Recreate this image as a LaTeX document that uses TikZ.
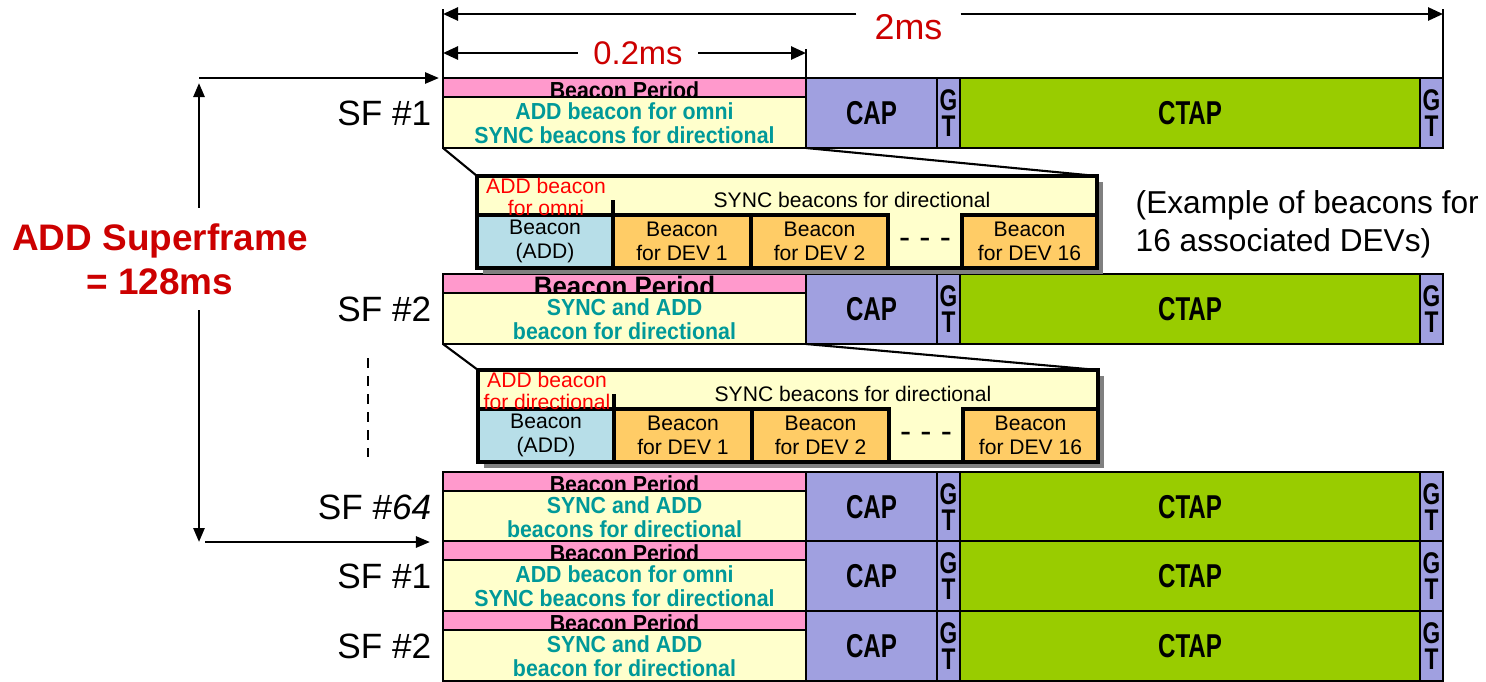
\documentclass[tikz,border=0pt]{standalone}
\usepackage{fontspec}
\setmainfont{Liberation Sans}
\newfontfamily\bandfont[FakeStretch=0.92]{Liberation Sans}
\newfontfamily\blockfont[FakeStretch=0.73]{Liberation Sans}
\newfontfamily\gtfont[FakeStretch=0.76]{Liberation Sans}
\usetikzlibrary{arrows.meta,fit,shadows}
\definecolor{bppink}{RGB}{255,153,204}
\definecolor{bandyellow}{RGB}{255,255,204}
\definecolor{caplav}{RGB}{160,160,224}
\definecolor{ctapgreen}{RGB}{153,204,0}
\definecolor{bandteal}{RGB}{0,153,153}
\definecolor{dimred}{RGB}{204,0,0}
\definecolor{addblue}{RGB}{183,222,232}
\definecolor{devorange}{RGB}{255,204,102}
\definecolor{shadowgray}{RGB}{128,128,128}
\tikzset{
  blk/.style={draw, line width=0.75pt, inner sep=0pt, outer sep=0pt},
  blocktext/.style={font=\blockfont\bfseries\fontsize{9.4pt}{9.4pt}\selectfont, inner sep=0pt},
  gttext/.style={font=\gtfont\bfseries\fontsize{8.5pt}{7.4pt}\selectfont, align=center, inner sep=0pt},
  bandtext/.style={text=bandteal, font=\bandfont\bfseries\fontsize{6.6pt}{6.85pt}\selectfont, align=center, inner sep=0pt},
  sflabel/.style={anchor=east, font=\fontsize{10pt}{12pt}\selectfont, inner sep=0pt, xshift=-0.11cm},
  expbox/.style={blk, line width=0.9pt, fill=bandyellow,
    drop shadow={shadow xshift=0.06cm, shadow yshift=-0.06cm, fill=shadowgray, opacity=1}},
  subbox/.style={blk, line width=0.9pt},
  exptext/.style={font=\fontsize{6pt}{6.8pt}\selectfont, align=center, inner sep=0pt},
  dimlabel/.style={text=dimred, inner ysep=0pt},
  zoomline/.style={line width=0.6pt},
  arr/.style={line width=0.75pt, -{Triangle[length=0.14cm, width=0.11cm]}},
  dimarrow/.style={line width=0.75pt, -{Triangle[length=0.15cm, width=0.13cm]}}
}
% one superframe: name, top, BP size, BP baseline offset, band text, label
\newcommand\sfrow[6]{%
  \pgfmathsetmacro\rowtop{#2}
  \pgfmathsetmacro\rowmid{#2+19}
  \pgfmathsetmacro\rowbot{#2+70}
  \node[blk, fill=bppink, fit={(443,\rowtop)(806,\rowmid)}] (#1bp) {};
  \node[anchor=base, inner sep=0pt, font=\bandfont\bfseries\fontsize{#3}{#3}\selectfont]
    (#1bpt) at (624.5,\rowmid+#4) {Beacon Period};
  \node[blk, fill=bandyellow, fit={(443,\rowmid)(806,\rowbot)}] (#1bd) {};
  \node[bandtext] (#1bdt) at ([yshift=-0.01cm]#1bd.center) {#5};
  \node[blk, fill=caplav, fit={(806,\rowtop)(937,\rowbot)}] (#1cap) {};
  \node[blk, fill=caplav, fit={(937,\rowtop)(960,\rowbot)}] (#1gta) {};
  \node[blk, fill=ctapgreen, fit={(960,\rowtop)(1420,\rowbot)}] (#1ctap) {};
  \node[blk, fill=caplav, fit={(1420,\rowtop)(1443,\rowbot)}] (#1gtb) {};
  \node[blocktext] (#1capt) at (#1cap) {CAP};
  \node[gttext] (#1gtat) at (#1gta) {G\\T};
  \node[blocktext] (#1ctapt) at (#1ctap) {CTAP};
  \node[gttext] (#1gtbt) at (#1gtb) {G\\T};
  \node[sflabel] (#1lbl) at (#1cap.center -| #1bp.west) {#6};
}
% beacon period in detail: name, left, top, red text
\newcommand\beaconzoom[4]{%
  \pgfmathsetmacro\exl{#2}
  \pgfmathsetmacro\ext{#3}
  \pgfmathsetmacro\exm{#3+39}
  \pgfmathsetmacro\exb{#3+92}
  \node[expbox, fit={(\exl,\ext)(\exl+620,\exb)}] (#1) {};
  \node[exptext] (#1sync) at (\exl+375,\ext+24) {SYNC beacons for directional};
  \node[subbox, fill=addblue, fit={(\exl,\exm)(\exl+136,\exb)}] (#1add) {};
  \node[subbox, fill=devorange, fit={(\exl+136,\exm)(\exl+274,\exb)}] (#1deva) {};
  \node[subbox, fill=devorange, fit={(\exl+274,\exm)(\exl+411,\exb)}] (#1devb) {};
  \node[subbox, fill=devorange, fit={(\exl+485,\exm)(\exl+620,\exb)}] (#1devp) {};
  \node[exptext] at (#1add) {Beacon\\(ADD)};
  \node[exptext] at (#1deva) {Beacon\\for DEV 1};
  \node[exptext] at (#1devb) {Beacon\\for DEV 2};
  \node[exptext] at (#1devp) {Beacon\\for DEV 16};
  \node[font=\fontsize{9.5pt}{9.5pt}\selectfont, inner sep=0pt] (#1dots) at (\exl+448,\exm+28) {- - -};
  \node[exptext, text=red, font=\fontsize{6pt}{6.26pt}\selectfont] (#1red) at (\exl+69,\ext+21) {#4};
  \draw[line width=0.9pt] (#1add.north east) -- ++(0,-15);
}
\begin{document}
\begin{tikzpicture}[x=0.01cm,y=-0.01cm]
\useasboundingbox (0,0) rectangle (1486,681);
% superframes
\sfrow{ra}{78}{6.6pt}{1.6}{ADD beacon for omni\\SYNC beacons for directional}{SF \#1}
\sfrow{rb}{274}{8pt}{3}{SYNC and ADD\\beacon for directional}{SF \#2}
\sfrow{rc}{472}{6.6pt}{1}{SYNC and ADD\\beacons for directional}{SF \#\textit{64}}
\sfrow{rd}{541}{6.6pt}{1}{ADD beacon for omni\\SYNC beacons for directional}{SF \#1}
\sfrow{re}{611}{6.6pt}{1}{SYNC and ADD\\beacon for directional}{SF \#2}
% details of the beacon periods
\beaconzoom{exa}{477}{176}{ADD beacon\\for omni}
\beaconzoom{exb}{478}{370}{ADD beacon\\for directional}
\draw[zoomline] (rabd.south west) -- (exa.north west);
\draw[zoomline] (racap.south west) -- (exa.north east);
\draw[zoomline] (rbbd.south west) -- (exb.north west);
\draw[zoomline] (rbcap.south west) -- (exb.north east);
\node[anchor=west, align=left, font=\fontsize{9pt}{10.8pt}\selectfont, inner sep=0pt]
  (exnote) at (1135,224) {(Example of beacons for\\16 associated DEVs)};
% durations
\coordinate (dimaL) at (443,14);
\coordinate (dimaR) at (1443,14);
\node[dimlabel, font=\fontsize{10.2pt}{12pt}\selectfont, inner xsep=0.175cm] (twoms) at (908.5,27) {2ms};
\draw[dimarrow] (twoms.west |- dimaL) -- (dimaL);
\draw[dimarrow] (twoms.east |- dimaR) -- (dimaR);
\draw[line width=0.75pt] (rabp.north west) -- ++(0,-69);
\draw[line width=0.75pt] (ragtb.north east) -- ++(0,-69);
\coordinate (dimbL) at (443,53);
\coordinate (dimbR) at (806,53);
\node[dimlabel, font=\fontsize{9.3pt}{12pt}\selectfont, inner xsep=0.15cm] (ptwoms) at (638,53) {0.2ms};
\draw[dimarrow] (ptwoms.west |- dimbL) -- (dimbL);
\draw[dimarrow] (ptwoms.east |- dimbR) -- (dimbR);
\draw[line width=0.75pt] (racap.north west) -- ++(0,-29);
% ADD superframe span
\node[text=dimred, font=\bfseries\fontsize{10.5pt}{12.5pt}\selectfont, align=center,
  inner xsep=0pt, inner ysep=0.15cm] (super) at (160,259) {ADD Superframe\\= 128ms};
\coordinate (supa) at (199,78);
\coordinate (supb) at (199,542);
\draw[arr, shorten >=0.04cm] (supa) -- (rabp.north west);
\draw[arr, shorten >=0.05cm] (super.north -| supa) -- (supa);
\draw[arr] (super.south -| supb) -- (supb);
\draw[arr, shorten <=0.06cm, shorten >=0.13cm] (supb) -- (rcbd.south west);
\coordinate (gapa) at (368,358);
\coordinate (gapb) at (368,457);
\draw[line width=0.75pt, dash pattern=on 0.1cm off 0.08cm] (gapa) -- (gapb);
\end{tikzpicture}
\end{document}
